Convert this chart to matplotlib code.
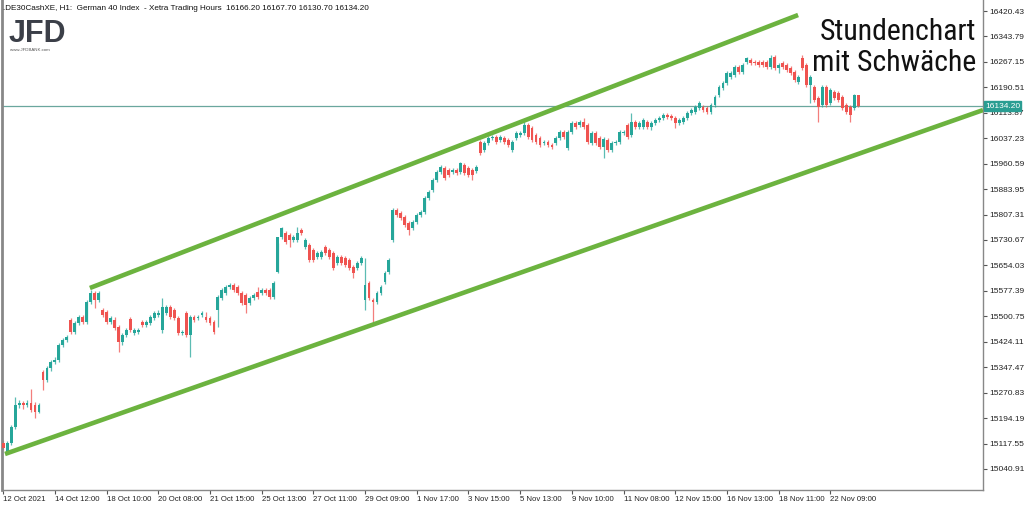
import os
import matplotlib
matplotlib.use("Agg")
import matplotlib.pyplot as plt
from matplotlib import font_manager
from matplotlib.font_manager import FontProperties
import numpy as np

# OHLC des Stundencharts (216 Kerzen)
opens = [15119, 15092, 15119, 15167, 15234, 15240, 15234, 15240, 15234, 15212,
         15333, 15309, 15345, 15363, 15369, 15414, 15429, 15490, 15453, 15481,
         15499, 15484, 15544, 15571, 15550, 15520, 15514, 15484, 15490, 15469,
         15423, 15444, 15493, 15450, 15453, 15484, 15475, 15481, 15496, 15505,
         15460, 15511, 15529, 15520, 15496, 15450, 15511, 15444, 15499, 15496,
         15505, 15499, 15496, 15484, 15520, 15556, 15571, 15589, 15595, 15589,
         15571, 15565, 15541, 15556, 15574, 15571, 15580, 15580, 15559, 15634,
         15740, 15752, 15746, 15731, 15731, 15761, 15710, 15716, 15701, 15679,
         15679, 15710, 15701, 15691, 15661, 15679, 15676, 15670, 15649, 15646,
         15661, 15550, 15601, 15550, 15544, 15571, 15604, 15634, 15731, 15821,
         15812, 15800, 15782, 15767, 15785, 15806, 15815, 15857, 15881, 15911,
         15935, 15947, 15941, 15935, 15941, 15935, 15957, 15947, 15941, 15938,
         16026, 16002, 16023, 16038, 16041, 16032, 16038, 16032, 16002, 16038,
         16047, 16053, 16077, 16068, 16047, 16038, 16023, 16026, 16017, 16023,
         16038, 16056, 16008, 16056, 16083, 16077, 16086, 16077, 16023, 16053,
         16038, 16011, 16032, 16002, 16023, 16026, 16053, 16077, 16047, 16086,
         16071, 16071, 16086, 16071, 16083, 16092, 16098, 16107, 16104, 16098,
         16083, 16086, 16098, 16113, 16116, 16128, 16131, 16128, 16116, 16137,
         16167, 16189, 16204, 16222, 16228, 16252, 16237, 16267, 16273, 16267,
         16267, 16267, 16267, 16252, 16282, 16249, 16264, 16258, 16249, 16237,
         16207, 16279, 16258, 16198, 16192, 16158, 16137, 16192, 16143, 16176,
         16173, 16161, 16137, 16131, 16128, 16166.2]
highs = [15128, 15125, 15172, 15258, 15249, 15246, 15249, 15282, 15243, 15240,
         15339, 15351, 15369, 15378, 15420, 15435, 15444, 15496, 15487, 15505,
         15505, 15550, 15580, 15577, 15577, 15526, 15520, 15502, 15499, 15475,
         15450, 15466, 15499, 15466, 15466, 15490, 15490, 15505, 15517, 15520,
         15556, 15535, 15535, 15526, 15502, 15460, 15517, 15505, 15505, 15505,
         15517, 15514, 15502, 15490, 15565, 15586, 15595, 15601, 15601, 15595,
         15577, 15571, 15562, 15571, 15589, 15586, 15586, 15586, 15607, 15722,
         15770, 15758, 15752, 15746, 15770, 15767, 15737, 15722, 15707, 15697,
         15701, 15716, 15707, 15697, 15685, 15685, 15682, 15676, 15655, 15667,
         15682, 15676, 15607, 15556, 15577, 15595, 15637, 15676, 15827, 15827,
         15818, 15806, 15788, 15791, 15812, 15821, 15863, 15881, 15917, 15941,
         15956, 15953, 15947, 15947, 15947, 15966, 15963, 15953, 15947, 15956,
         16032, 16029, 16044, 16047, 16047, 16047, 16044, 16038, 16032, 16059,
         16059, 16086, 16083, 16074, 16053, 16044, 16032, 16032, 16023, 16044,
         16062, 16062, 16062, 16089, 16089, 16092, 16098, 16083, 16059, 16059,
         16044, 16041, 16038, 16029, 16032, 16062, 16062, 16083, 16113, 16092,
         16089, 16098, 16092, 16089, 16098, 16104, 16113, 16113, 16110, 16104,
         16098, 16104, 16119, 16128, 16137, 16149, 16137, 16134, 16143, 16167,
         16198, 16210, 16240, 16240, 16258, 16258, 16264, 16282, 16279, 16273,
         16273, 16273, 16273, 16288, 16288, 16264, 16270, 16264, 16255, 16243,
         16228, 16288, 16264, 16228, 16198, 16164, 16198, 16198, 16188, 16182,
         16179, 16167, 16143, 16137, 16170, 16167.7]
lows = [15098, 15089, 15113, 15161, 15225, 15222, 15228, 15212, 15194, 15209,
        15279, 15303, 15336, 15357, 15363, 15408, 15423, 15447, 15447, 15475,
        15478, 15478, 15538, 15526, 15544, 15499, 15478, 15478, 15460, 15393,
        15414, 15438, 15453, 15444, 15447, 15469, 15469, 15475, 15490, 15499,
        15450, 15505, 15493, 15490, 15444, 15444, 15438, 15378, 15484, 15490,
        15499, 15484, 15475, 15447, 15469, 15550, 15565, 15583, 15574, 15565,
        15535, 15511, 15535, 15550, 15553, 15565, 15565, 15553, 15553, 15631,
        15734, 15719, 15709, 15725, 15725, 15746, 15704, 15664, 15664, 15673,
        15673, 15685, 15673, 15640, 15655, 15655, 15649, 15640, 15616, 15640,
        15655, 15520, 15550, 15481, 15538, 15565, 15598, 15628, 15725, 15800,
        15791, 15770, 15746, 15761, 15779, 15800, 15809, 15851, 15875, 15905,
        15929, 15911, 15920, 15929, 15926, 15929, 15926, 15920, 15911, 15932,
        15987, 15996, 16017, 16032, 16020, 16026, 16020, 16011, 15996, 16032,
        16041, 16047, 16035, 16026, 16020, 16011, 16017, 16011, 16005, 16017,
        16032, 16035, 16002, 16050, 16065, 16071, 16065, 16020, 16017, 16017,
        16005, 15978, 15996, 15996, 16017, 16020, 16047, 16035, 16041, 16065,
        16065, 16065, 16065, 16062, 16077, 16086, 16092, 16095, 16092, 16068,
        16077, 16080, 16092, 16107, 16110, 16122, 16116, 16110, 16110, 16131,
        16161, 16183, 16198, 16216, 16222, 16231, 16231, 16261, 16258, 16258,
        16252, 16252, 16246, 16246, 16243, 16234, 16246, 16237, 16228, 16207,
        16201, 16243, 16192, 16143, 16146, 16086, 16131, 16131, 16137, 16152,
        16146, 16122, 16110, 16086, 16122, 16130.7]
closes = [15104, 15119, 15167, 15234, 15240, 15234, 15240, 15219, 15212, 15234,
          15309, 15345, 15363, 15369, 15414, 15429, 15438, 15453, 15481, 15499,
          15484, 15544, 15571, 15550, 15571, 15505, 15484, 15496, 15466, 15423,
          15444, 15460, 15460, 15460, 15460, 15475, 15484, 15499, 15511, 15511,
          15529, 15529, 15499, 15496, 15450, 15453, 15444, 15499, 15490, 15499,
          15511, 15490, 15481, 15453, 15559, 15580, 15589, 15595, 15580, 15571,
          15541, 15535, 15556, 15565, 15559, 15580, 15571, 15559, 15601, 15740,
          15767, 15725, 15731, 15740, 15752, 15752, 15731, 15670, 15670, 15691,
          15694, 15691, 15679, 15646, 15679, 15661, 15655, 15646, 15631, 15661,
          15676, 15595, 15556, 15544, 15571, 15589, 15631, 15670, 15821, 15806,
          15797, 15776, 15761, 15785, 15806, 15815, 15857, 15875, 15911, 15935,
          15950, 15917, 15926, 15941, 15932, 15963, 15932, 15926, 15926, 15950,
          15993, 16023, 16038, 16041, 16026, 16041, 16026, 16017, 16026, 16053,
          16053, 16077, 16041, 16032, 16026, 16017, 16026, 16017, 16011, 16038,
          16056, 16041, 16056, 16083, 16071, 16086, 16071, 16026, 16053, 16023,
          16011, 16035, 16002, 16023, 16026, 16056, 16056, 16041, 16086, 16071,
          16083, 16092, 16071, 16083, 16092, 16098, 16107, 16101, 16098, 16083,
          16092, 16098, 16113, 16122, 16131, 16143, 16122, 16116, 16137, 16161,
          16192, 16204, 16234, 16234, 16252, 16237, 16258, 16279, 16264, 16264,
          16258, 16258, 16252, 16279, 16249, 16258, 16252, 16243, 16234, 16213,
          16222, 16249, 16198, 16222, 16152, 16131, 16192, 16137, 16182, 16158,
          16152, 16128, 16116, 16107, 16166, 16134.2]

x_labels = ["12 Oct 2021", "14 Oct 12:00", "18 Oct 10:00", "20 Oct 08:00",
            "21 Oct 15:00", "25 Oct 13:00", "27 Oct 11:00", "29 Oct 09:00",
            "1 Nov 17:00", "3 Nov 15:00", "5 Nov 13:00", "9 Nov 10:00",
            "11 Nov 08:00", "12 Nov 15:00", "16 Nov 13:00", "18 Nov 11:00",
            "22 Nov 09:00"]
label_step = 13
y_ticks = [15040.91, 15117.55, 15194.19, 15270.83, 15347.47, 15424.11,
           15500.75, 15577.39, 15654.03, 15730.67, 15807.31, 15883.95,
           15960.59, 16037.23, 16113.87, 16190.51, 16267.15, 16343.79, 16420.43]
last_price = 16134.20

# Trendkanal (Kerzenindex, Kurs)
upper_x = [21.8, 199.9]
upper_y = [15586.0, 16408.4]
lower_x = [0.45, 246.4]
lower_y = [15086.0, 16122.0]

bull = "#26a69a"
bear = "#ef5350"
green = "#6cb33f"
small_font = "Liberation Sans"


def condensed_font():
    # schmale Schrift suchen, sonst normale Liberation Sans
    wanted = ["LiberationSansNarrow-Regular", "RobotoCondensed-Regular",
              "Roboto_Condensed-Regular", "DejaVuSansCondensed.", "OpenSans_Condensed-Regular",
              "OpenSansCondensed-Regular", "NotoSans-Condensed.", "NotoSansCondensed-Regular"]
    files = [f.fname for f in font_manager.fontManager.ttflist]
    for key in wanted:
        for fn in files:
            if key in os.path.basename(fn):
                return FontProperties(fname=fn)
    return FontProperties(family="Liberation Sans")


fig = plt.figure(figsize=(10.30, 5.21), dpi=100)
ax = fig.add_axes([2 / 1030, 31 / 521, 981 / 1030, 490 / 521])

o = np.array(opens, dtype=float)
h = np.array(highs, dtype=float)
l = np.array(lows, dtype=float)
c = np.array(closes, dtype=float)
idx = np.arange(len(c))
cols = np.where(c >= o, bull, bear)

ax.vlines(idx, l, h, colors=cols, linewidth=0.9, alpha=0.75, zorder=2)
body_h = np.maximum(np.abs(c - o), 1.2)
ax.bar(idx, body_h, bottom=np.minimum(o, c), width=0.72, color=cols,
       linewidth=0, zorder=3)

ax.axhline(last_price, color="#6aa79e", linewidth=0.9, zorder=1)

ax.plot(upper_x, upper_y, color=green, linewidth=3.3, solid_capstyle="butt", zorder=4)
ax.plot(lower_x, lower_y, color=green, linewidth=3.3, solid_capstyle="butt", zorder=4)

ax.set_xlim(-0.3, 246.4)
ax.set_ylim(14977.5, 16453.6)

ax.set_xticks(np.arange(len(x_labels)) * label_step)
ax.set_xticklabels(x_labels, ha="left", family=small_font, fontsize=5.6)
ax.set_yticks(y_ticks)
ax.set_yticklabels([f"{v:.2f}" for v in y_ticks], family=small_font, fontsize=6.0)
ax.yaxis.tick_right()
ax.tick_params(axis="both", length=3, width=0.8, color="#555555",
               labelcolor="#222222")
ax.tick_params(axis="x", pad=1.5)
ax.tick_params(axis="y", pad=1.5)

for side in ["left", "bottom", "right"]:
    ax.spines[side].set_color("#888888")
    ax.spines[side].set_linewidth(1.0)
ax.spines["left"].set_linewidth(2.0)
ax.spines["top"].set_visible(False)

# Kursbox rechts
ax.annotate(f"{last_price:.2f}", xy=(1.0, last_price),
            xycoords=("axes fraction", "data"), xytext=(1.5, 0),
            textcoords="offset points", ha="left", va="center",
            fontsize=6.0, family=small_font, color="white", zorder=6,
            bbox=dict(boxstyle="square,pad=0.15", facecolor="#2a9d92",
                      edgecolor="#2a9d92"))

fig.text(3 / 1030, 1 - 8 / 521,
         ".DE30CashXE, H1:  German 40 Index  - Xetra Trading Hours  "
         "16166.20 16167.70 16130.70 16134.20",
         fontsize=5.9, family=small_font, va="center", ha="left", color="#111111")
fig.text(9 / 1030, 1 - 34 / 521, "JFD", fontsize=22, fontweight="bold",
         color="#3b3f48", va="center", ha="left", family="Liberation Sans")
fig.text(10 / 1030, 1 - 50 / 521, "www.JFDBANK.com", fontsize=3.2,
         family=small_font, color="#555555", va="center", ha="left")

# Kommentar oben rechts, Breite auf ca. 158 px angepasst
fp = condensed_font()
fp.set_size(22)
lines = ["Stundenchart", "mit Schwäche"]
renderer = fig.canvas.get_renderer()
probe = fig.text(0, 0, lines[0], fontproperties=fp)
w = probe.get_window_extent(renderer).width
probe.remove()
fp.set_size(22 * 156 / w)
fig.text(976 / 1030, 1 - 40 / 521, lines[0], fontproperties=fp,
         ha="right", va="baseline", color="#111111", zorder=7)
fig.text(976 / 1030, 1 - 71 / 521, lines[1], fontproperties=fp,
         ha="right", va="baseline", color="#111111", zorder=7)

fig.savefig("out.png", dpi=100)
